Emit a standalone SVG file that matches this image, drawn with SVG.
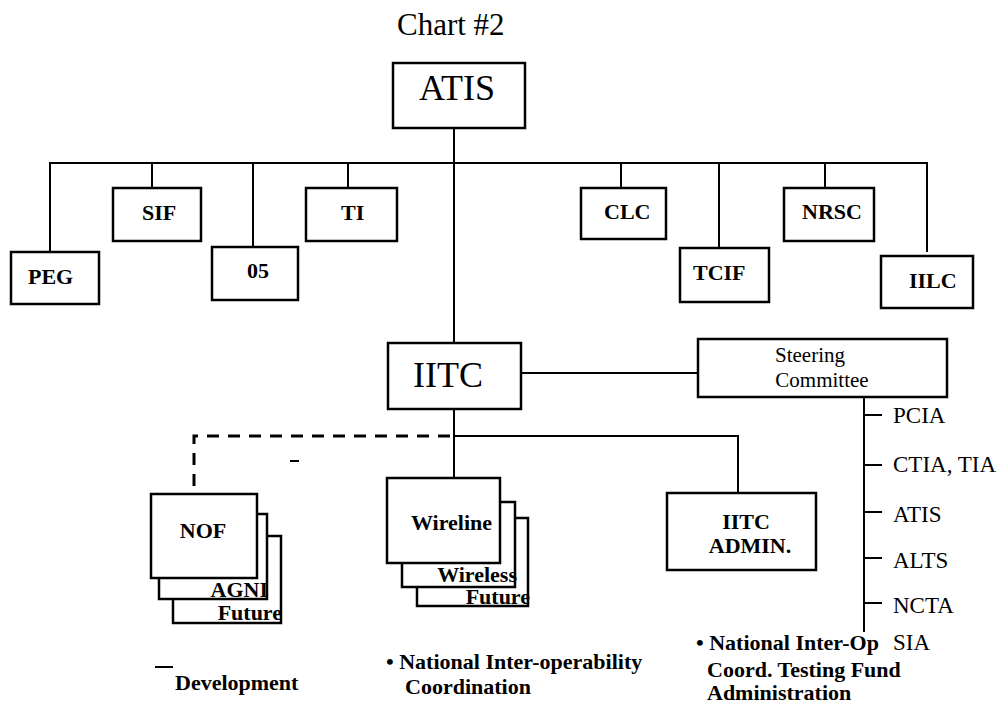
<svg xmlns="http://www.w3.org/2000/svg" width="997" height="704" viewBox="0 0 997 704">
<style>
.bx{fill:#fff;stroke:#000;stroke-width:2.5}
.ln{fill:none;stroke:#000;stroke-width:2}
.dash{fill:none;stroke:#000;stroke-width:3;stroke-dasharray:12 9}
.t{font-family:"Liberation Serif","Times New Roman",serif;fill:#000}
.b{font-weight:bold;font-size:22px}
.big{font-size:36px}
.r{font-size:23px}
.m{text-anchor:middle}
.e{text-anchor:end}
</style>
<rect width="997" height="704" fill="#fff"/>
<text class="t" x="397" y="35" font-size="31">Chart #2</text>
<g id="connectors">
<path class="ln" d="M454 128V478M50 252V163H927V252M152 163V188M253 163V247M348 163V188M621 163V188M719 163V248M825 163V188"/>
<path class="ln" d="M521 373H698M454 436H738V493"/>
<path class="dash" d="M450 436H194V494"/>
<path class="ln" d="M290 461H299M155 667H173"/>
<path class="ln" d="M864 397V632M864 415H882M864 465H882M864 512H882M864 558H882M864 603H882"/>
</g>
<g id="ATIS"><rect class="bx" x="393" y="63" width="132" height="65"/><text class="t big m" x="457" y="100">ATIS</text></g>
<g id="PEG"><rect class="bx" x="11" y="252" width="88" height="52"/><text class="t b" x="28" y="284" font-size="20">PEG</text></g>
<g id="SIF"><rect class="bx" x="113" y="188" width="88" height="53"/><text class="t b" x="142" y="220">SIF</text></g>
<g id="n05"><rect class="bx" x="212" y="247" width="86" height="53"/><text class="t b" x="247" y="278">05</text></g>
<g id="TI"><rect class="bx" x="306" y="188" width="91" height="53"/><text class="t b" x="341" y="220">TI</text></g>
<g id="CLC"><rect class="bx" x="581" y="188" width="85" height="51"/><text class="t b" x="604" y="219">CLC</text></g>
<g id="TCIF"><rect class="bx" x="680" y="248" width="89" height="54"/><text class="t b" x="693" y="280">TCIF</text></g>
<g id="NRSC"><rect class="bx" x="784" y="188" width="90" height="53"/><text class="t b" x="802" y="219">NRSC</text></g>
<g id="IILC"><rect class="bx" x="881" y="256" width="92" height="52"/><text class="t b" x="909" y="288">IILC</text></g>
<g id="IITC"><rect class="bx" x="388" y="343" width="133" height="66"/><text class="t big m" x="448" y="387">IITC</text></g>
<g id="Steering"><rect class="bx" x="698" y="339" width="249" height="58"/><text class="t m" x="810" y="362" font-size="21">Steering</text><text class="t m" x="822" y="387" font-size="21">Committee</text></g>
<g id="NOF">
<rect class="bx" x="173" y="536" width="108" height="87"/><text class="t b e" x="282" y="620">Future</text>
<rect class="bx" x="159" y="514" width="108" height="85"/><text class="t b e" x="268" y="597">AGNI</text>
<rect class="bx" x="151" y="494" width="106" height="84"/><text class="t b m" x="203" y="538">NOF</text>
</g>
<g id="Wireline">
<rect class="bx" x="417" y="518" width="111" height="88"/><text class="t b e" x="530" y="604">Future</text>
<rect class="bx" x="402" y="502" width="113" height="85"/><text class="t b e" x="517" y="582">Wireless</text>
<rect class="bx" x="387" y="478" width="113" height="85"/><text class="t b" x="411" y="530" font-size="24">Wireline</text>
</g>
<g id="IITCADMIN"><rect class="bx" x="667" y="493" width="149" height="77"/><text class="t b m" x="746" y="529" font-size="21">IITC</text><text class="t b m" x="750" y="553" font-size="21">ADMIN.</text></g>
<g id="members">
<text class="t r" x="893" y="423">PCIA</text>
<text class="t r" x="893" y="472">CTIA, TIA</text>
<text class="t r" x="893" y="522">ATIS</text>
<text class="t r" x="893" y="568">ALTS</text>
<text class="t r" x="893" y="613">NCTA</text>
<text class="t r" x="893" y="650">SIA</text>
</g>
<g id="notes">
<text class="t b" x="175" y="690">Development</text>
<text class="t b" x="386" y="669">• National Inter-operability</text>
<text class="t b" x="405" y="694">Coordination</text>
<text class="t b" x="696" y="650">• National Inter-Op</text>
<text class="t b" x="707" y="677">Coord. Testing Fund</text>
<text class="t b" x="707" y="700">Administration</text>
</g>
</svg>
